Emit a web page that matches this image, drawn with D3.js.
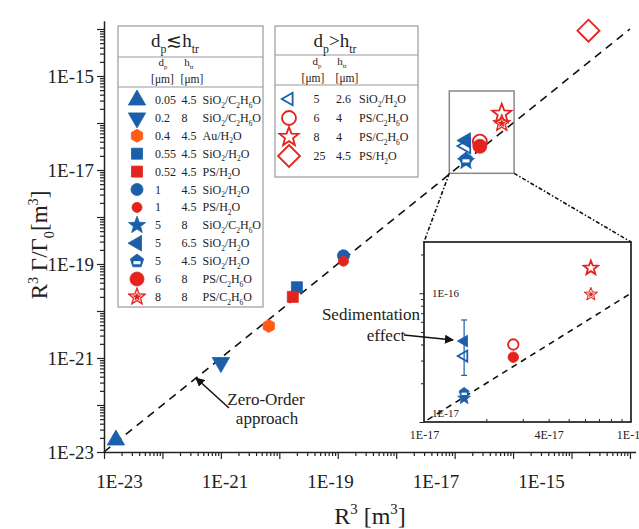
<!DOCTYPE html>
<html><head><meta charset="utf-8">
<script src="https://cdn.jsdelivr.net/npm/d3@7"></script>
<style>body{margin:0;background:#fff}svg{display:block}text{font-family:"Liberation Serif","Times New Roman",serif;fill:#222}</style>
</head><body>
<script>
// ---------- data ----------
const xLabelExps = [-23, -21, -19, -17, -15];
const yLabelExps = [-23, -21, -19, -17, -15];
// group dp <~ htr
const leftDp  = ["0.05","0.2","0.4","0.55","0.52","1","1","5","5","5","6","8"];
const leftH   = ["4.5","8","4.5","4.5","4.5","4.5","4.5","8","6.5","4.5","8","8"];
const leftMat = ["SiO_2/C_2H_6O","SiO_2/C_2H_6O","Au/H_2O","SiO_2/H_2O","PS/H_2O","SiO_2/H_2O","PS/H_2O","SiO_2/C_2H_6O","SiO_2/H_2O","SiO_2/H_2O","PS/C_2H_6O","PS/C_2H_6O"];
const leftR3  = [1.6e-23, 1.0e-21, 6.6e-21, 2.0e-20, 1.7e-20, 1.25e-19, 1.25e-19, 1.5625e-17, 1.5625e-17, 1.5625e-17, 2.7e-17, 6.4e-17];
const leftVal = [1.8e-23, 8.0e-22, 4.8e-21, 3.2e-20, 2.0e-20, 1.5e-19, 1.15e-19, 1.53e-17, 4.25e-17, 1.69e-17, 3.19e-17, 9.8e-17];
// group dp > htr
const rightDp  = ["5","6","8","25"];
const rightH   = ["2.6","4","4","4.5"];
const rightMat = ["SiO_2/H_2O","PS/C_2H_6O","PS/C_2H_6O","PS/H_2O"];
const rightR3  = [1.5625e-17, 2.7e-17, 6.4e-17, 1.95e-15];
const rightVal = [3.25e-17, 4.0e-17, 1.57e-16, 9.2e-15];
// error bar (sedimentation effect)
const errR3 = 1.5625e-17, errLo = 2.3e-17, errHi = 6.2e-17;
// zoom box in main plot
const boxX = [8.1e-18, 1.04e-16], boxY = [8.5e-18, 4.8e-16];
const insetXLabels = [1e-17, 4e-17, 1e-16];
const insetYLabels = [1e-17, 1e-16];

// ---------- styles ----------
const BLUE = "#1b5faa", RED = "#e5231d", ORANGE = "#ff5b14";
const leftStyle = [
  {shape:"triUp", c:BLUE, r:10}, {shape:"triDown", c:BLUE, r:10}, {shape:"hexagon", c:ORANGE, r:6.5},
  {shape:"square", c:BLUE, r:5.5}, {shape:"square", c:RED, r:5.5}, {shape:"circle", c:BLUE, r:6},
  {shape:"circle", c:RED, r:5}, {shape:"star", c:BLUE, r:9}, {shape:"triLeft", c:BLUE, r:9},
  {shape:"pentagon", c:BLUE, r:7}, {shape:"circle", c:RED, r:7}, {shape:"starW", c:RED, r:9.5}];
const rightStyle = [
  {shape:"triLeft", c:BLUE, r:8.5, open:true}, {shape:"circle", c:RED, r:7, open:true},
  {shape:"star", c:RED, r:10, open:true}, {shape:"diamond", c:RED, r:11, open:true}];

const W = 639, H = 529;
const svg = d3.select("body").append("svg").attr("width", W).attr("height", H);

function rich(sel, str, size) {
  sel.attr("font-size", size);
  const re = /([_^])\{([^}]*)\}|([_^])(.)|([^_^]+)/g;
  let m, shift = 0;
  while ((m = re.exec(str))) {
    let kind = null, txt;
    if (m[5] !== undefined) { txt = m[5]; }
    else if (m[1] !== undefined) { kind = m[1]; txt = m[2]; }
    else { kind = m[3]; txt = m[4]; }
    const target = kind === "_" ? size * 0.3 : kind === "^" ? -size * 0.4 : 0;
    sel.append("tspan").attr("dy", (target - shift).toFixed(2)).attr("font-size", kind ? size * 0.62 : size).text(txt);
    shift = target;
  }
  return sel;
}

function shapePath(shape, r) {
  const reg = (n, rot) => d3.range(n).map(i => { const a = rot + i * 2 * Math.PI / n; return [r * Math.cos(a), r * Math.sin(a)]; });
  let p;
  switch (shape) {
    case "triUp": p = reg(3, -Math.PI / 2); break;
    case "triDown": p = reg(3, Math.PI / 2); break;
    case "triLeft": p = reg(3, Math.PI); break;
    case "hexagon": p = reg(6, -Math.PI / 2); break;
    case "pentagon": p = reg(5, -Math.PI / 2); break;
    case "diamond": p = reg(4, -Math.PI / 2); break;
    case "square": p = [[-r, -r], [r, -r], [r, r], [-r, r]]; break;
    case "star": case "starW":
      p = d3.range(10).map(i => { const a = -Math.PI / 2 + i * Math.PI / 5; const rr = i % 2 ? r * 0.42 : r; return [rr * Math.cos(a), rr * Math.sin(a)]; }); break;
    case "circle": return `M${r},0A${r},${r} 0 1 1 ${-r},0A${r},${r} 0 1 1 ${r},0Z`;
  }
  return "M" + p.map(q => q.map(v => v.toFixed(2)).join(",")).join("L") + "Z";
}

function drawMarker(g, st, cx, cy, scale) {
  const r = st.r * (scale || 1);
  const m = g.append("g").attr("transform", `translate(${cx},${cy})`);
  if (st.open) {
    m.append("path").attr("d", shapePath(st.shape, r)).attr("fill", "none").attr("stroke", st.c).attr("stroke-width", 1.8);
  } else {
    m.append("path").attr("d", shapePath(st.shape, r)).attr("fill", st.c).attr("stroke", st.c).attr("stroke-width", 0.8);
    if (st.shape === "pentagon") {
      m.append("rect").attr("x", -r * 0.5).attr("y", 0).attr("width", r).attr("height", r * 0.45).attr("fill", "#fff");
    }
    if (st.shape === "starW") {
      m.append("path").attr("d", shapePath("star", r * 0.6)).attr("fill", "none").attr("stroke", "#fff").attr("stroke-width", 0.8);
    }
  }
}

// ---------- main scales ----------
const pxDecX = 58.44, pxDecY = 47;
const xMax = 1.25e-14, yMax = 1.5e-14;
const x = d3.scaleLog().domain([1e-23, xMax]).range([104, 104 + pxDecX * Math.log10(xMax / 1e-23)]);
const y = d3.scaleLog().domain([1e-23, yMax]).range([452, 452 - pxDecY * Math.log10(yMax / 1e-23)]);
// tick labels of the x axis sit on their own (narrower) spacing in the reference
const xLab = d3.scaleLog().domain([1e-23, 1e-15]).range([119, 541]);

function logTicks(lo, hi) {
  const major = [], minor = [];
  for (let e = Math.round(Math.log10(lo)); e <= Math.log10(hi) + 1; e++) {
    const b = Math.pow(10, e);
    if (b >= lo * 0.999 && b <= hi) major.push(b);
    for (let k = 2; k <= 9; k++) { const v = k * b; if (v >= lo && v <= hi) minor.push(v); }
  }
  return {major, minor};
}
const fmtEy = v => { const e = Math.round(Math.log10(v)); return yLabelExps.includes(e) ? "1E" + e : ""; };

const xt = logTicks(1e-23, xMax), yt = logTicks(1e-23, yMax);
const axX = svg.append("g").attr("transform", "translate(0,452)");
axX.call(d3.axisBottom(x).tickValues(xt.minor).tickSize(4).tickSizeOuter(0).tickFormat(""));
const axXM = svg.append("g").attr("transform", "translate(0,452)");
axXM.call(d3.axisBottom(x).tickValues(xt.major).tickSize(7).tickSizeOuter(0).tickFormat(""));
axXM.select(".domain").remove();
const axXL = svg.append("g").attr("transform", "translate(0,452)");
axXL.call(d3.axisBottom(xLab).tickValues(xLabelExps.map(e => Math.pow(10, e))).tickSize(0).tickPadding(23).tickFormat(v => "1E" + Math.round(Math.log10(v))));
axXL.select(".domain").remove();
axXL.selectAll("text").attr("font-size", 19).attr("font-family", "Liberation Serif").attr("fill", "#222");
const axY = svg.append("g").attr("transform", "translate(104,0)");
axY.call(d3.axisLeft(y).tickValues(yt.minor).tickSize(4).tickSizeOuter(0).tickFormat(""));
const axYM = svg.append("g").attr("transform", "translate(104,0)");
axYM.call(d3.axisLeft(y).tickValues(yt.major).tickSize(7).tickSizeOuter(0).tickPadding(3).tickFormat(fmtEy));
axYM.select(".domain").remove();
axYM.selectAll("text").attr("font-size", 19).attr("font-family", "Liberation Serif").attr("fill", "#222");
svg.selectAll(".domain").attr("stroke", "#222").attr("stroke-width", 1.5);
svg.selectAll(".tick line").attr("stroke", "#222").attr("stroke-width", 1.2);

// axis titles
rich(svg.append("text").attr("x", 370).attr("y", 524).attr("text-anchor", "middle"), "R^3 [m^3]", 24);
rich(svg.append("text").attr("transform", "translate(47,245) rotate(-90)").attr("text-anchor", "middle"), "R^3 Γ/Γ_0[m^3]", 23);

// y = x line
svg.append("line").attr("x1", x(1e-23)).attr("y1", y(1e-23)).attr("x2", x(1e-14)).attr("y2", y(1e-14))
  .attr("stroke", "#111").attr("stroke-width", 1.6).attr("stroke-dasharray", "8,6");

// zoom box
svg.append("rect").attr("x", x(boxX[0])).attr("y", y(boxY[1])).attr("width", x(boxX[1]) - x(boxX[0])).attr("height", y(boxY[0]) - y(boxY[1]))
  .attr("fill", "none").attr("stroke", "#888").attr("stroke-width", 1.5);

// main markers
const gm = svg.append("g");
leftR3.forEach((v, i) => drawMarker(gm, leftStyle[i], x(v), y(leftVal[i])));
rightR3.forEach((v, i) => drawMarker(gm, rightStyle[i], x(v), y(rightVal[i])));

// ---------- inset ----------
const ix = d3.scaleLog().domain([1e-17, 1e-16]).range([424, 631]);
const iy = d3.scaleLog().domain([1e-17, 2.5e-16]).range([422, 242]);
// connectors
svg.append("line").attr("x1", x(boxX[0])).attr("y1", y(boxY[0])).attr("x2", ix(1e-17)).attr("y2", iy(2.5e-16))
  .attr("stroke", "#111").attr("stroke-width", 1.6).attr("stroke-dasharray", "4,2,1.5,2");
svg.append("line").attr("x1", x(boxX[1])).attr("y1", y(boxY[0])).attr("x2", ix(1e-16)).attr("y2", iy(2.5e-16))
  .attr("stroke", "#111").attr("stroke-width", 1.6).attr("stroke-dasharray", "4,2,1.5,2");
const gi = svg.append("g");
gi.append("rect").attr("x", 424).attr("y", 242).attr("width", 207).attr("height", 180).attr("fill", "#fff").attr("stroke", "#111").attr("stroke-width", 1.6);
const ixt = logTicks(1e-17, 1e-16), iyt = logTicks(1e-17, 2.5e-16);
const iaxX = gi.append("g").attr("transform", "translate(0,422)");
iaxX.call(d3.axisTop(ix).tickValues(ixt.minor).tickSize(3).tickSizeOuter(0).tickFormat(""));
iaxX.select(".domain").remove();
const iaxXL = gi.append("g").attr("transform", "translate(0,422)");
iaxXL.call(d3.axisBottom(ix).tickValues(insetXLabels).tickSize(0).tickPadding(8).tickFormat(v => {
  const e = Math.floor(Math.log10(v) + 1e-9); return Math.round(v / Math.pow(10, e)) + "E" + e; }));
iaxXL.select(".domain").remove();
iaxXL.selectAll("text").attr("font-size", 12).attr("font-family", "Liberation Serif").attr("fill", "#222");
const iaxY = gi.append("g").attr("transform", "translate(424,0)");
iaxY.call(d3.axisLeft(iy).tickValues(iyt.minor).tickSize(3).tickSizeOuter(0).tickFormat(""));
iaxY.select(".domain").remove();
const iaxYM = gi.append("g").attr("transform", "translate(424,0)");
iaxYM.call(d3.axisLeft(iy).tickValues(iyt.major).tickSize(4.5).tickSizeOuter(0).tickFormat(""));
iaxYM.select(".domain").remove();
gi.selectAll(".tick line").attr("stroke", "#222").attr("stroke-width", 1);
insetYLabels.forEach(v => {
  const e = Math.round(Math.log10(v));
  gi.append("text").attr("x", 432).attr("y", iy(v) + (e === -17 ? -5 : 4)).attr("font-size", 11).text("1E" + e);
});
// inset y=x
gi.append("line").attr("x1", ix(1.04e-17)).attr("y1", iy(1.04e-17)).attr("x2", ix(1e-16)).attr("y2", iy(1e-16))
  .attr("stroke", "#111").attr("stroke-width", 1.6).attr("stroke-dasharray", "6,5");
// error bar
const eg = gi.append("g").attr("stroke", BLUE).attr("stroke-width", 1.2);
eg.append("line").attr("x1", ix(errR3)).attr("x2", ix(errR3)).attr("y1", iy(errLo)).attr("y2", iy(errHi));
[errLo, errHi].forEach(v => eg.append("line").attr("x1", ix(errR3) - 3).attr("x2", ix(errR3) + 3).attr("y1", iy(v)).attr("y2", iy(v)));
// inset markers (only points in range)
leftR3.forEach((v, i) => { if (v >= 1e-17 && v <= 1e-16) drawMarker(gi, leftStyle[i], ix(v), iy(leftVal[i]), 0.75); });
rightR3.forEach((v, i) => { if (v >= 1e-17 && v <= 1e-16) drawMarker(gi, rightStyle[i], ix(v), iy(rightVal[i]), 0.75); });

// ---------- annotations ----------
const defs = svg.append("defs");
defs.append("marker").attr("id", "ah").attr("viewBox", "0 0 10 10").attr("refX", 9).attr("refY", 5)
  .attr("markerWidth", 9).attr("markerHeight", 9).attr("orient", "auto").attr("markerUnits", "userSpaceOnUse")
  .append("path").attr("d", "M0,0L10,5L0,10Z").attr("fill", "#111");
svg.append("line").attr("x1", 229).attr("y1", 408).attr("x2", 196).attr("y2", 378).attr("stroke", "#111").attr("stroke-width", 1.5).attr("marker-end", "url(#ah)");
svg.append("line").attr("x1", 404).attr("y1", 335).attr("x2", 453).attr("y2", 340).attr("stroke", "#111").attr("stroke-width", 1.5).attr("marker-end", "url(#ah)");
svg.append("text").attr("x", 266).attr("y", 405).attr("text-anchor", "middle").attr("font-size", 17).text("Zero-Order");
svg.append("text").attr("x", 267).attr("y", 424).attr("text-anchor", "middle").attr("font-size", 17).text("approach");
svg.append("text").attr("x", 371).attr("y", 320).attr("text-anchor", "middle").attr("font-size", 17).text("Sedimentation");
svg.append("text").attr("x", 386).attr("y", 341).attr("text-anchor", "middle").attr("font-size", 17).text("effect");

// ---------- legends ----------
function legendBox(x0, y0, w, h, s1, s2) {
  const g = svg.append("g");
  g.append("rect").attr("x", x0).attr("y", y0).attr("width", w).attr("height", h).attr("fill", "#fff").attr("stroke", "#9a9a9a").attr("stroke-width", 1.2);
  [s1, s2].forEach(s => g.append("line").attr("x1", x0).attr("x2", x0 + w).attr("y1", s).attr("y2", s).attr("stroke", "#9a9a9a").attr("stroke-width", 1.2));
  return g;
}
// left
const gl = legendBox(118, 26, 145, 281, 57, 87);
rich(gl.append("text").attr("x", 175).attr("y", 47).attr("text-anchor", "middle"), "d_p≲h_{tr}", 19);
rich(gl.append("text").attr("x", 163).attr("y", 66).attr("text-anchor", "middle"), "d_p", 11);
rich(gl.append("text").attr("x", 189).attr("y", 66).attr("text-anchor", "middle"), "h_{tr}", 11);
gl.append("text").attr("x", 162.5).attr("y", 83).attr("text-anchor", "middle").attr("font-size", 11.5).text("[μm]");
gl.append("text").attr("x", 192).attr("y", 83).attr("text-anchor", "middle").attr("font-size", 11.5).text("[μm]");
leftDp.forEach((d, i) => {
  const cy = 100 + i * 17.9;
  drawMarker(gl, leftStyle[i], 137, cy);
  gl.append("text").attr("x", 155).attr("y", cy + 4).attr("font-size", 12).text(d);
  gl.append("text").attr("x", 181.5).attr("y", cy + 4).attr("font-size", 12).text(leftH[i]);
  rich(gl.append("text").attr("x", 202.5).attr("y", cy + 4), leftMat[i], 12);
});
// right
const gr = legendBox(275, 26, 143, 151, 55, 85);
rich(gr.append("text").attr("x", 335).attr("y", 47).attr("text-anchor", "middle"), "d_p>h_{tr}", 19);
rich(gr.append("text").attr("x", 317).attr("y", 65).attr("text-anchor", "middle"), "d_p", 11);
rich(gr.append("text").attr("x", 342).attr("y", 65).attr("text-anchor", "middle"), "h_{tr}", 11);
gr.append("text").attr("x", 313).attr("y", 82).attr("text-anchor", "middle").attr("font-size", 11.5).text("[μm]");
gr.append("text").attr("x", 347).attr("y", 82).attr("text-anchor", "middle").attr("font-size", 11.5).text("[μm]");
rightDp.forEach((d, i) => {
  const cy = 99 + i * 19;
  drawMarker(gr, rightStyle[i], 289, cy, i === 0 ? 0.85 : 1);
  gr.append("text").attr("x", 313.5).attr("y", cy + 4).attr("font-size", 12).text(d);
  gr.append("text").attr("x", 336).attr("y", cy + 4).attr("font-size", 12).text(rightH[i]);
  rich(gr.append("text").attr("x", 359).attr("y", cy + 4), rightMat[i], 12);
});
</script>
</body></html>
